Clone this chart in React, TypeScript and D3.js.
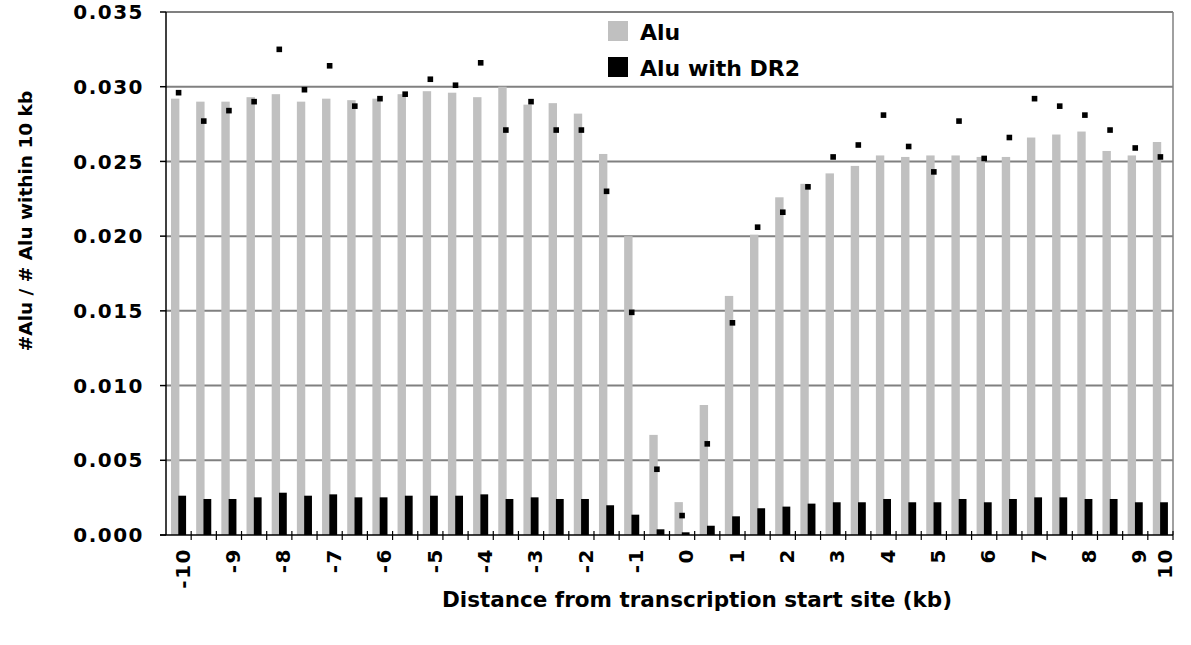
import React, { useEffect, useRef } from "react";
import * as d3 from "d3";

const width = 1191;
const height = 645;

// distance bins (kb), 0.5 kb apart
const distances = [
  -10, -9.5, -9, -8.5, -8, -7.5, -7, -6.5, -6, -5.5, -5, -4.5, -4, -3.5, -3, -2.5, -2, -1.5, -1, -0.5,
  0, 0.5, 1, 1.5, 2, 2.5, 3, 3.5, 4, 4.5, 5, 5.5, 6, 6.5, 7, 7.5, 8, 8.5, 9, 9.5,
];

const xTickLabels = [
  "-10", "", "-9", "", "-8", "", "-7", "", "-6", "", "-5", "", "-4", "", "-3", "", "-2", "", "-1", "",
  "0", "", "1", "", "2", "", "3", "", "4", "", "5", "", "6", "", "7", "", "8", "", "9", "10",
];

const aluValues = [
  0.0292, 0.029, 0.029, 0.0293, 0.0295, 0.029, 0.0292, 0.0291, 0.0292, 0.0295,
  0.0297, 0.0296, 0.0293, 0.03, 0.0288, 0.0289, 0.0282, 0.0255, 0.02, 0.0067,
  0.0022, 0.0087, 0.016, 0.0201, 0.0226, 0.0235, 0.0242, 0.0247, 0.0254, 0.0253,
  0.0254, 0.0254, 0.0253, 0.0253, 0.0266, 0.0268, 0.027, 0.0257, 0.0254, 0.0263,
];

const dr2Values = [
  0.00263, 0.00241, 0.00241, 0.00252, 0.00283, 0.00263, 0.00272, 0.00252, 0.00252, 0.00263,
  0.00263, 0.00263, 0.00272, 0.00241, 0.00252, 0.00241, 0.00241, 0.00199, 0.00136, 0.00038,
  0.00018, 0.00062, 0.00125, 0.00179, 0.0019, 0.0021, 0.00219, 0.00219, 0.00241, 0.00219,
  0.00219, 0.00241, 0.00219, 0.00241, 0.00252, 0.00252, 0.00241, 0.00241, 0.00219, 0.00219,
];

// the square markers (DR2 share, scaled)
const dr2ScaledValues = [
  0.0296, 0.0277, 0.0284, 0.029, 0.0325, 0.0298, 0.0314, 0.0287, 0.0292, 0.0295,
  0.0305, 0.0301, 0.0316, 0.0271, 0.029, 0.0271, 0.0271, 0.023, 0.0149, 0.0044,
  0.0013, 0.0061, 0.0142, 0.0206, 0.0216, 0.0233, 0.0253, 0.0261, 0.0281, 0.026,
  0.0243, 0.0277, 0.0252, 0.0266, 0.0292, 0.0287, 0.0281, 0.0271, 0.0259, 0.0253,
];

const yTicks = [0, 0.005, 0.01, 0.015, 0.02, 0.025, 0.03, 0.035];

const gray = "#c0c0c0";
const gridColor = "#808080";
const font = "DejaVu Sans";

const App = () => {
  const ref = useRef<SVGSVGElement>(null);

  useEffect(() => {
    const svg = d3.select(ref.current);
    svg.selectAll("*").remove();

    const left = 166;
    const right = 1173;
    const top = 12;
    const bottom = 535;

    const x = d3
      .scaleBand<number>()
      .domain(d3.range(distances.length))
      .range([left, right]);
    const cx = (i: number) => (x(i) as number) + x.bandwidth() / 2;

    const y = d3.scaleLinear().domain([0, 0.035]).range([bottom, top]);

    // gridlines
    svg
      .append("g")
      .selectAll("line")
      .data(yTicks.slice(1))
      .enter()
      .append("line")
      .attr("x1", left)
      .attr("x2", right)
      .attr("y1", (d) => y(d))
      .attr("y2", (d) => y(d))
      .attr("stroke", gridColor)
      .attr("stroke-width", 2);

    // right frame
    svg
      .append("line")
      .attr("x1", right)
      .attr("x2", right)
      .attr("y1", top)
      .attr("y2", bottom)
      .attr("stroke", gridColor)
      .attr("stroke-width", 1.5);

    // Alu bars
    svg
      .append("g")
      .selectAll("rect")
      .data(aluValues)
      .enter()
      .append("rect")
      .attr("x", (d, i) => cx(i) - 7.6)
      .attr("width", 8.4)
      .attr("y", (d) => y(d))
      .attr("height", (d) => y(0) - y(d))
      .attr("fill", gray);

    // Alu with DR2 bars
    svg
      .append("g")
      .selectAll("rect")
      .data(dr2Values)
      .enter()
      .append("rect")
      .attr("x", (d, i) => cx(i) - 0.3)
      .attr("width", 7.8)
      .attr("y", (d) => y(d))
      .attr("height", (d) => y(0) - y(d))
      .attr("fill", "#000");

    // square markers
    svg
      .append("g")
      .selectAll("rect")
      .data(dr2ScaledValues)
      .enter()
      .append("rect")
      .attr("x", (d, i) => cx(i) - 2.8)
      .attr("y", (d) => y(d) - 2.8)
      .attr("width", 5.6)
      .attr("height", 5.6)
      .attr("fill", "#000");

    // y axis
    svg
      .append("line")
      .attr("x1", left)
      .attr("x2", left)
      .attr("y1", top)
      .attr("y2", bottom)
      .attr("stroke", "#000")
      .attr("stroke-width", 1.5);

    const yAxis = svg.append("g");
    yAxis
      .selectAll("line")
      .data(yTicks)
      .enter()
      .append("line")
      .attr("x1", left - 6)
      .attr("x2", left)
      .attr("y1", (d) => y(d))
      .attr("y2", (d) => y(d))
      .attr("stroke", "#000")
      .attr("stroke-width", 1.5);
    yAxis
      .selectAll("text")
      .data(yTicks)
      .enter()
      .append("text")
      .attr("x", 144)
      .attr("y", (d) => y(d))
      .attr("dy", "0.36em")
      .attr("text-anchor", "end")
      .attr("font-family", font)
      .attr("font-weight", "bold")
      .attr("font-size", 20)
      .attr("letter-spacing", 1.5)
      .text((d) => d3.format(".3f")(d));

    // x axis
    svg
      .append("line")
      .attr("x1", left - 6)
      .attr("x2", right)
      .attr("y1", bottom)
      .attr("y2", bottom)
      .attr("stroke", "#000")
      .attr("stroke-width", 1.5);

    const xAxis = svg.append("g");
    xAxis
      .selectAll("line")
      .data(d3.range(distances.length))
      .enter()
      .append("line")
      .attr("x1", (i) => (x(i) as number) + x.bandwidth())
      .attr("x2", (i) => (x(i) as number) + x.bandwidth())
      .attr("y1", bottom - 4)
      .attr("y2", bottom + 5)
      .attr("stroke", "#000")
      .attr("stroke-width", 1.2);
    xAxis
      .selectAll("text")
      .data(xTickLabels)
      .enter()
      .append("text")
      .attr("transform", (d, i) => `translate(${cx(i) + 4},548) rotate(-90)`)
      .attr("dy", "0.36em")
      .attr("text-anchor", "end")
      .attr("font-family", font)
      .attr("font-weight", "bold")
      .attr("font-size", 20)
      .attr("letter-spacing", 1.5)
      .text((d) => d);

    // axis titles
    svg
      .append("text")
      .attr("x", 697)
      .attr("y", 607)
      .attr("text-anchor", "middle")
      .attr("font-family", font)
      .attr("font-weight", "bold")
      .attr("font-size", 21.5)
      .text("Distance from transcription start site (kb)");

    svg
      .append("text")
      .attr("transform", "translate(32,221) rotate(-90)")
      .attr("text-anchor", "middle")
      .attr("font-family", font)
      .attr("font-weight", "bold")
      .attr("font-size", 18.5)
      .text("#Alu / # Alu within 10 kb");

    // legend
    const legend = svg.append("g").attr("transform", "translate(608,21)");
    const legendItems = [
      { name: "Alu", color: gray },
      { name: "Alu with DR2", color: "#000" },
    ];
    legendItems.forEach((item, i) => {
      legend
        .append("rect")
        .attr("x", 0)
        .attr("y", i * 36)
        .attr("width", 20)
        .attr("height", 20)
        .attr("fill", item.color);
      legend
        .append("text")
        .attr("x", 32)
        .attr("y", i * 36 + 18.5)
        .attr("font-family", font)
        .attr("font-weight", "bold")
        .attr("font-size", 22)
        .text(item.name);
    });
  }, []);

  return (
    <svg
      ref={ref}
      width={width}
      height={height}
      style={{ position: "absolute", left: 0, top: 0, background: "#fff" }}
    ></svg>
  );
};

export default App;
